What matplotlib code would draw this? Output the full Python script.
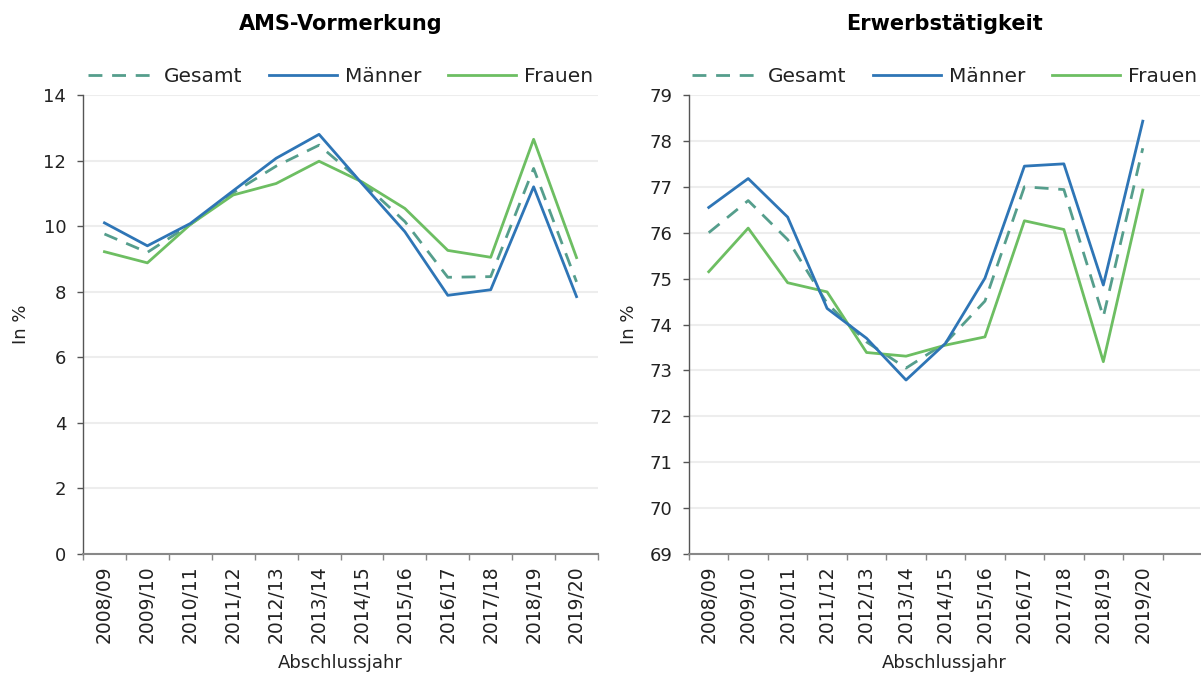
import matplotlib
matplotlib.use("Agg")
import matplotlib.pyplot as plt
import numpy as np

years = ["2008/09", "2009/10", "2010/11", "2011/12", "2012/13", "2013/14",
         "2014/15", "2015/16", "2016/17", "2017/18", "2018/19", "2019/20"]

# AMS-Vormerkung (in %)
ams_gesamt = [9.76, 9.20, 10.05, 11.02, 11.83, 12.47, 11.35, 10.14, 8.44, 8.46, 11.76, 8.30]
ams_maenner = [10.10, 9.40, 10.08, 11.08, 12.07, 12.80, 11.30, 9.83, 7.89, 8.06, 11.20, 7.85]
ams_frauen = [9.22, 8.88, 10.05, 10.95, 11.30, 11.98, 11.35, 10.54, 9.26, 9.05, 12.65, 9.04]

# Erwerbstätigkeit (in %)
erw_gesamt = [76.00, 76.70, 75.85, 74.46, 73.62, 73.05, 73.60, 74.51, 77.00, 76.94, 74.17, 77.84]
erw_maenner = [76.55, 77.18, 76.34, 74.35, 73.70, 72.79, 73.59, 75.01, 77.45, 77.50, 74.86, 78.43]
erw_frauen = [75.15, 76.10, 74.91, 74.71, 73.39, 73.31, 73.55, 73.73, 76.26, 76.07, 73.19, 76.93]

titles = ["AMS-Vormerkung", "Erwerbstätigkeit"]
series_names = ["Gesamt", "Männer", "Frauen"]

C_GES = "#559E8C"
C_MAN = "#2E75B6"
C_FRA = "#6DBE62"
TXT = "#222222"

plt.rcParams["font.family"] = ["DejaVu Sans"]

W, H = 1201, 675
fig = plt.figure(figsize=(W / 100, H / 100), dpi=100)

def add_ax(x0, x1, y0, y1):
    return fig.add_axes([x0 / W, 1 - y1 / H, (x1 - x0) / W, (y1 - y0) / H])

ax1 = add_ax(83, 598, 95, 554)
ax2 = add_ax(689, 1200, 95, 554)

def style(ax, data, ylim, yticks, xmax, title, ylab_x):
    g, m, f = data
    x = np.arange(len(years))
    ax.plot(x, g, color=C_GES, lw=2.0, dashes=(5, 3.5), label=series_names[0], zorder=3)
    ax.plot(x, m, color=C_MAN, lw=2.0, label=series_names[1], zorder=4)
    ax.plot(x, f, color=C_FRA, lw=2.0, label=series_names[2], zorder=3)
    ax.set_xlim(-0.5, xmax)
    ax.set_ylim(*ylim)
    ax.set_yticks(yticks)
    ax.set_yticklabels([str(v) for v in yticks], fontsize=13, color=TXT)
    ax.set_xticks(x)
    ax.set_xticklabels(years, rotation=90, fontsize=13.5, color=TXT)
    ax.tick_params(axis="x", which="major", length=0, pad=8)
    ax.set_xticks(np.arange(len(years) + 1) - 0.5, minor=True)
    ax.tick_params(axis="x", which="minor", length=4, width=1, color="#888888", direction="out")
    ax.tick_params(axis="y", length=4, width=1, color="#555555", direction="out", pad=8)
    ax.grid(axis="y", color="#EDEDED", lw=1.5, zorder=0)
    ax.set_axisbelow(True)
    for s in ["top", "right"]:
        ax.spines[s].set_visible(False)
    ax.spines["left"].set_color("#555555")
    ax.spines["bottom"].set_color("#888888")
    ax.spines["left"].set_linewidth(1.0)
    ax.spines["bottom"].set_linewidth(1.5)
    ax.set_ylabel("In %", fontsize=13, color=TXT)
    ax.yaxis.set_label_coords(ylab_x, 0.5)
    ax.set_xlabel("Abschlussjahr", fontsize=13, color=TXT)
    ax.xaxis.set_label_coords(0.5, -0.218)
    ax.set_title(title, fontsize=15, fontweight="bold", color="black", pad=47)
    ax.legend(loc="lower center", bbox_to_anchor=(0.5, 1.0), ncol=3, frameon=False,
              fontsize=14.5, handlelength=3.4, columnspacing=1.3, handletextpad=0.4,
              borderaxespad=0.05, labelcolor=TXT)

style(ax1, (ams_gesamt, ams_maenner, ams_frauen), (0, 14), list(range(0, 15, 2)), 11.5, titles[0], -0.102)
style(ax2, (erw_gesamt, erw_maenner, erw_frauen), (69, 79), list(range(69, 80)), 12.45, titles[1], -0.100)

fig.savefig("out.png", dpi=100)
